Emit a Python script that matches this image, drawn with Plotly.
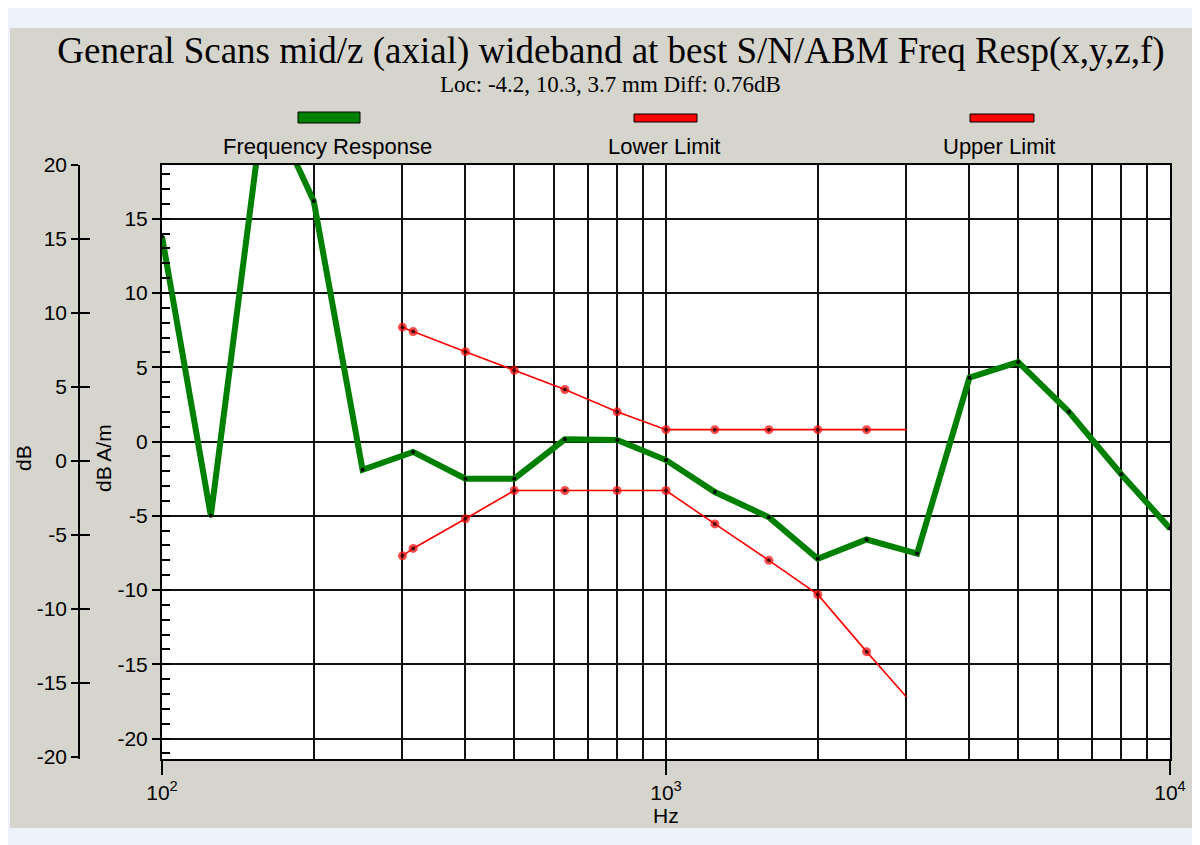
import plotly.graph_objects as go

# Frequency response (dB A/m) at the 1/3-octave bands
freq_hz = [100, 125, 160, 200, 250, 315, 400, 500, 630, 800, 1000,
           1250, 1600, 2000, 2500, 3150, 4000, 5000, 6300, 8000, 10000]
freq_resp_db = [13.8, -5.0, 23.3, 16.2, -1.9, -0.7, -2.5, -2.5, 0.15, 0.1, -1.25,
                -3.4, -5.1, -7.9, -6.6, -7.55, 4.3, 5.35, 2.0, -2.2, -5.85]

# Tolerance mask
limit_hz = [300, 315, 400, 500, 630, 800, 1000, 1250, 1600, 2000, 2500, 3000]
lower_limit_db = [-7.7, -7.2, -5.2, -3.3, -3.3, -3.3, -3.3, -5.55, -8.0, -10.3, -14.15, -17.2]
upper_limit_db = [7.7, 7.4, 6.05, 4.8, 3.5, 2.0, 0.8, 0.8, 0.8, 0.8, 0.8, 0.8]

x_tick_vals = [100, 1000, 10000]
x_tick_text = ["10<sup>2</sup>", "10<sup>3</sup>", "10<sup>4</sup>"]
x_minor_vals = [200, 300, 400, 500, 600, 700, 800, 900,
                2000, 3000, 4000, 5000, 6000, 7000, 8000, 9000]
y_tick_vals = [-20, -15, -10, -5, 0, 5, 10, 15]
y_tick_text = ["-20", "-15", "-10", "-5", "0", "5", "10", "15"]
db_tick_vals = [-20, -15, -10, -5, 0, 5, 10, 15, 20]
db_tick_text = ["-20", "-15", "-10", "-5", "0", "5", "10", "15", "20"]

TITLE = "General Scans mid/z (axial) wideband at best S/N/ABM Freq Resp(x,y,z,f)"
SUBTITLE = "Loc: -4.2, 10.3, 3.7 mm Diff: 0.76dB"

# the page puts the figure 8px in from the top-left corner
OFF = 8
W, H = 1200, 845
PLOT_L, PLOT_R, PLOT_T, PLOT_B = 162, 1170, 165, 759   # page pixels
ML = 0
MR = W - (PLOT_R - OFF)
MT = PLOT_T - OFF
MB = H - (PLOT_B - OFF)
PW = W - ML - MR
PH = H - MT - MB


def px(x):
    # page pixel -> paper x
    return (x - OFF - ML) / PW


def py(y):
    # page pixel -> paper y
    return (PLOT_B - y) / PH


SANS = "Liberation Sans, Arial, sans-serif"
SERIF = "Liberation Serif, Times New Roman, serif"
GREEN = "#008000"
RED = "#ff0000"
PANEL = "#d6d5cd"
PAGE = "#edf1f9"

fig = go.Figure()

# green response line with black point dots
fig.add_trace(go.Scatter(
    x=freq_hz, y=freq_resp_db, mode="lines+markers", name="Frequency Response",
    line=dict(color=GREEN, width=6),
    marker=dict(color="black", size=4, line=dict(width=0)),
))

# limit lines: red circles with a black centre, no marker on the end point
mk = [9] * (len(limit_hz) - 1) + [0]
dot = [4] * (len(limit_hz) - 1) + [0]
for name, vals in [("Lower Limit", lower_limit_db), ("Upper Limit", upper_limit_db)]:
    fig.add_trace(go.Scatter(
        x=limit_hz, y=vals, mode="lines+markers", name=name,
        line=dict(color=RED, width=1.6),
        marker=dict(color=RED, size=mk, line=dict(width=0)),
    ))
    fig.add_trace(go.Scatter(
        x=limit_hz, y=vals, mode="markers", showlegend=False, hoverinfo="skip",
        marker=dict(color="black", size=dot, line=dict(width=0)),
    ))

# empty traces so the outer dB axes get drawn
fig.add_trace(go.Scatter(x=[], y=[], yaxis="y2", showlegend=False))
fig.add_trace(go.Scatter(x=[], y=[], yaxis="y3", showlegend=False))

grid = "#111111"
tfont = dict(family=SANS, size=21, color="black")
fig.update_layout(
    width=W, height=H,
    margin=dict(l=ML, r=MR, t=MT, b=MB, autoexpand=False),
    paper_bgcolor=PAGE,
    plot_bgcolor="white",
    showlegend=False,
    title=dict(text=TITLE, x=(611 - OFF) / W, xanchor="center",
               y=1 - (50 - OFF) / H, yanchor="middle",
               font=dict(family=SERIF, size=37, color="black")),
    xaxis=dict(
        type="log", range=[2, 4], domain=[px(PLOT_L), 1],
        tickvals=x_tick_vals, ticktext=x_tick_text,
        ticks="outside", ticklen=14, tickwidth=1.5, tickcolor="black",
        showgrid=True, gridcolor=grid, gridwidth=1.8,
        minor=dict(tickvals=x_minor_vals, showgrid=True, gridcolor=grid,
                   gridwidth=1.8, ticks=""),
        showline=True, linecolor="black", linewidth=2, mirror=True,
        zeroline=False, automargin=False, tickfont=tfont,
    ),
    yaxis=dict(
        range=[-21.38, 18.62], tickvals=y_tick_vals, ticktext=y_tick_text,
        ticks="outside", ticklen=8, tickwidth=1.5, tickcolor="black",
        showgrid=True, gridcolor=grid, gridwidth=1.8,
        minor=dict(tickmode="linear", tick0=0, dtick=1, ticks="inside",
                   ticklen=8, tickwidth=1.5, tickcolor="black", showgrid=False),
        showline=True, linecolor="black", linewidth=2, mirror=True,
        zeroline=False, automargin=False, tickfont=tfont,
    ),
    yaxis2=dict(
        overlaying="y", anchor="free", position=px(79), side="left",
        range=[-20.135, 20], tickvals=db_tick_vals, ticktext=db_tick_text,
        ticks="outside", ticklen=7, tickwidth=1.5, tickcolor="black",
        showgrid=False, zeroline=False, automargin=False,
        showline=True, linecolor="black", linewidth=1.5, tickfont=tfont,
    ),
    yaxis3=dict(
        overlaying="y", anchor="free", position=px(79), side="left",
        range=[-20.135, 20], tickvals=db_tick_vals[1:-1],
        ticks="inside", ticklen=10, tickwidth=1.5, tickcolor="black",
        showticklabels=False, showgrid=False, zeroline=False,
        showline=False, automargin=False,
    ),
)

# grey panel behind the chart, white plot area
fig.add_shape(type="rect", xref="paper", yref="paper", layer="below",
              x0=px(10), x1=px(1200), y0=py(828), y1=py(28),
              fillcolor=PANEL, line=dict(width=0))
fig.add_shape(type="rect", xref="paper", yref="paper", layer="below",
              x0=px(PLOT_L), x1=1, y0=0, y1=1,
              fillcolor="white", line=dict(width=0))

# legend: swatch above each label
legend_items = [("Frequency Response", GREEN, 298, 360, 112, 123, 328),
                ("Lower Limit", RED, 634, 697, 114, 122, 664),
                ("Upper Limit", RED, 970, 1034, 114, 122, 999)]
for label, col, sx0, sx1, sy0, sy1, lx in legend_items:
    fig.add_shape(type="rect", xref="paper", yref="paper",
                  x0=px(sx0), x1=px(sx1), y0=py(sy1), y1=py(sy0),
                  fillcolor=col, line=dict(color="black", width=1))
    fig.add_annotation(text=label, xref="paper", yref="paper", x=px(lx), y=py(146),
                       showarrow=False, xanchor="center", yanchor="middle",
                       font=dict(family=SANS, size=22, color="black"))

fig.add_annotation(text=SUBTITLE, xref="paper", yref="paper", x=px(610), y=py(85),
                   showarrow=False, xanchor="center", yanchor="middle",
                   font=dict(family=SERIF, size=23, color="black"))

# axis titles
fig.add_annotation(text="dB", xref="paper", yref="paper", x=px(23), y=py(458),
                   showarrow=False, textangle=-90, xanchor="center", yanchor="middle",
                   font=tfont)
fig.add_annotation(text="dB A/m", xref="paper", yref="paper", x=px(103), y=py(458),
                   showarrow=False, textangle=-90, xanchor="center", yanchor="middle",
                   font=tfont)
fig.add_annotation(text="Hz", xref="paper", yref="paper", x=px(666), y=py(815),
                   showarrow=False, xanchor="center", yanchor="middle",
                   font=tfont)

fig.write_html("out.html")
